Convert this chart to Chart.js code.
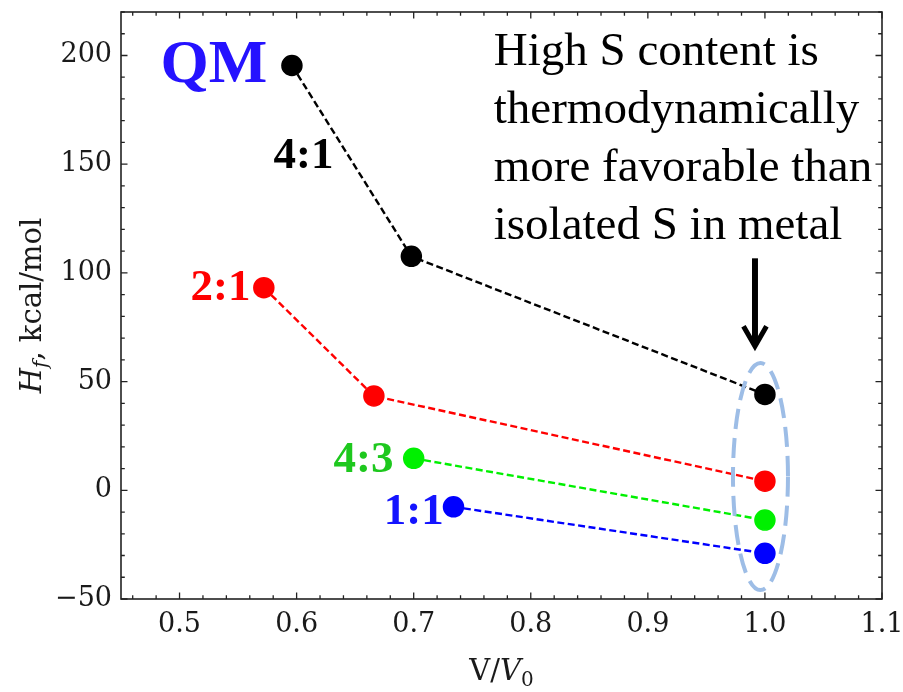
<!DOCTYPE html>
<html>
<head>
<meta charset="utf-8">
<script src="https://cdn.jsdelivr.net/npm/chart.js@4.4.0/dist/chart.umd.min.js"></script>
<style>
html, body { margin: 0; padding: 0; background: #fff; }
#wrap { width: 903px; height: 692px; }
</style>
</head>
<body>
<div id="wrap"><canvas id="grafico" width="903" height="692"></canvas></div>
<script>
// Datos (V/V0 y Hf en kcal/mol)
const volumen41 = [0.596, 0.698, 1.0];
const entalpia41 = [195.4, 107.6, 44.1];
const volumen21 = [0.572, 0.666, 1.0];
const entalpia21 = [93.2, 43.4, 4.2];
const volumen43 = [0.700, 1.0];
const entalpia43 = [14.7, -13.7];
const volumen11 = [0.734, 1.0];
const entalpia11 = [-7.6, -29.0];

const ticksX = [0.5, 0.6, 0.7, 0.8, 0.9, 1.0, 1.1];
const ticksY = [-50, 0, 50, 100, 150, 200];

const serie = (xs, ys) => xs.map((v, i) => ({ x: v, y: ys[i] }));

function conjunto(nombre, xs, ys, color) {
    return {
        label: nombre,
        data: serie(xs, ys),
        showLine: true,
        borderColor: color,
        backgroundColor: color,
        borderWidth: 2.4,
        borderDash: [7, 3.5],
        pointRadius: 10,
        pointBorderWidth: 1.5,
        pointBorderColor: color,
        pointBackgroundColor: color,
    };
}

// Marco estilo Mathematica, anotaciones, flecha y elipse
const decoracion = {
    id: 'decoracion',
    afterDatasetsDraw(chart) {
        const ctx = chart.ctx;
        const sx = chart.scales.x, sy = chart.scales.y;
        const px = v => sx.getPixelForValue(v);
        const py = v => sy.getPixelForValue(v);
        ctx.save();

        // elipse discontinua
        ctx.strokeStyle = '#9dbde6';
        ctx.lineWidth = 4;
        ctx.setLineDash([20, 9]);
        ctx.beginPath();
        ctx.ellipse(px(0.9962), py(6.3), 27.5, 113.5, 0, 0, Math.PI * 2);
        ctx.stroke();
        ctx.setLineDash([]);

        // flecha
        const ax = px(0.9915), ay0 = py(106.7), ay1 = py(65.3);
        ctx.strokeStyle = '#000';
        ctx.lineWidth = 6;
        ctx.beginPath();
        ctx.moveTo(ax, ay0);
        ctx.lineTo(ax, ay1 - 4);
        ctx.stroke();
        ctx.lineWidth = 5;
        ctx.lineJoin = 'miter';
        ctx.beginPath();
        ctx.moveTo(ax - 11.5, ay1 - 22);
        ctx.lineTo(ax, ay1 - 2);
        ctx.lineTo(ax + 11.5, ay1 - 22);
        ctx.stroke();

        // etiquetas
        ctx.textBaseline = 'alphabetic';
        ctx.textAlign = 'left';
        ctx.font = 'bold 62px "Liberation Serif"';
        ctx.fillStyle = '#2512ff';
        ctx.fillText('QM', px(0.4838), py(187.6));

        ctx.font = 'bold 45px "Liberation Serif"';
        ctx.fillStyle = '#000';
        ctx.fillText('4:1', px(0.5803), py(148.1));
        ctx.fillStyle = '#ff0000';
        ctx.textAlign = 'right';
        ctx.fillText('2:1', px(0.5607), py(87.4));
        ctx.textAlign = 'left';
        ctx.fillStyle = '#1ec81e';
        ctx.fillText('4:3', px(0.6316), py(8.4));
        ctx.fillStyle = '#1414ff';
        ctx.fillText('1:1', px(0.6744), py(-15.5));

        ctx.font = '47px "Liberation Serif"';
        ctx.fillStyle = '#000';
        const lineas = ['High S content is', 'thermodynamically', 'more favorable than', 'isolated S in metal'];
        const bases = [195.4, 168.8, 142.1, 115.4];
        lineas.forEach((t, i) => ctx.fillText(t, px(0.7684), py(bases[i])));

        ctx.restore();
    },
    afterDraw(chart) {
        const ctx = chart.ctx;
        const a = chart.chartArea;
        const sx = chart.scales.x, sy = chart.scales.y;
        ctx.save();
        ctx.strokeStyle = '#222';
        ctx.lineWidth = 1.6;
        ctx.strokeRect(a.left, a.top, a.right - a.left, a.bottom - a.top);

        ctx.lineWidth = 1.3;
        ctx.beginPath();
        // marcas en x cada 0.02
        for (let k = 23; k <= 55; k++) {
            const x = sx.getPixelForValue(k * 0.02);
            const largo = k % 5 === 0 ? 6.5 : 3.8;
            ctx.moveTo(x, a.bottom); ctx.lineTo(x, a.bottom - largo);
            ctx.moveTo(x, a.top); ctx.lineTo(x, a.top + largo);
        }
        // marcas en y cada 10
        for (let k = -5; k <= 22; k++) {
            const y = sy.getPixelForValue(k * 10);
            const largo = k % 5 === 0 ? 6.5 : 3.8;
            ctx.moveTo(a.left, y); ctx.lineTo(a.left + largo, y);
            ctx.moveTo(a.right, y); ctx.lineTo(a.right - largo, y);
        }
        ctx.stroke();

        // titulos de ejes
        ctx.fillStyle = '#1a1a1a';
        ctx.textBaseline = 'alphabetic';
        ctx.textAlign = 'left';
        const partesX = [
            { t: 'V/', f: '29px "DejaVu Serif"', dy: 0 },
            { t: 'V', f: 'italic 29px "DejaVu Serif"', dy: 0 },
            { t: '0', f: '20px "DejaVu Serif"', dy: 6 },
        ];
        const partesY = [
            { t: 'H', f: 'italic 29px "DejaVu Serif"', dy: 0 },
            { t: 'f', f: 'italic 20px "DejaVu Serif"', dy: 6 },
            { t: ', kcal/mol', f: '29px "DejaVu Serif"', dy: 0 },
        ];
        const escribir = (partes, cx, base) => {
            let total = 0;
            partes.forEach(p => { ctx.font = p.f; total += ctx.measureText(p.t).width; });
            let x = cx - total / 2;
            partes.forEach(p => {
                ctx.font = p.f;
                ctx.fillText(p.t, x, base + p.dy);
                x += ctx.measureText(p.t).width;
            });
        };
        escribir(partesX, (a.left + a.right) / 2, 680);
        ctx.translate(41, (a.top + a.bottom) / 2);
        ctx.rotate(-Math.PI / 2);
        escribir(partesY, 0, 0);
        ctx.restore();
    }
};

const fuenteTicks = { family: 'DejaVu Serif', size: 27 };

let grafico = new Chart(document.getElementById('grafico'), {
    type: 'scatter',
    data: {
        datasets: [
            conjunto('4:1', volumen41, entalpia41, '#000000'),
            conjunto('2:1', volumen21, entalpia21, '#ff0000'),
            conjunto('4:3', volumen43, entalpia43, '#00f000'),
            conjunto('1:1', volumen11, entalpia11, '#0000ff'),
        ]
    },
    options: {
        responsive: false,
        animation: false,
        layout: { padding: { top: 12, right: 21, left: 0, bottom: 0 } },
        plugins: {
            legend: { display: false },
            tooltip: { enabled: false },
        },
        scales: {
            x: {
                type: 'linear',
                min: 0.45,
                max: 1.1,
                grid: { display: false, drawTicks: false },
                border: { display: false },
                afterBuildTicks: s => { s.ticks = ticksX.map(v => ({ value: v })); },
                afterFit: s => { s.height = 93; s.paddingLeft = 0; s.paddingRight = 0; },
                ticks: {
                    font: fuenteTicks,
                    color: '#1a1a1a',
                    padding: 10,
                    maxRotation: 0,
                    autoSkip: false,
                    callback: v => Number(v).toFixed(1),
                },
            },
            y: {
                type: 'linear',
                min: -50,
                max: 220,
                grid: { display: false, drawTicks: false },
                border: { display: false },
                afterBuildTicks: s => { s.ticks = ticksY.map(v => ({ value: v })); },
                afterFit: s => { s.width = 121; s.paddingTop = 0; s.paddingBottom = 0; },
                ticks: {
                    font: fuenteTicks,
                    color: '#1a1a1a',
                    padding: 9,
                    autoSkip: false,
                    callback: v => v < 0 ? '\u2212' + Math.abs(v) : String(v),
                },
            },
        },
    },
    plugins: [decoracion],
});
</script>
</body>
</html>
